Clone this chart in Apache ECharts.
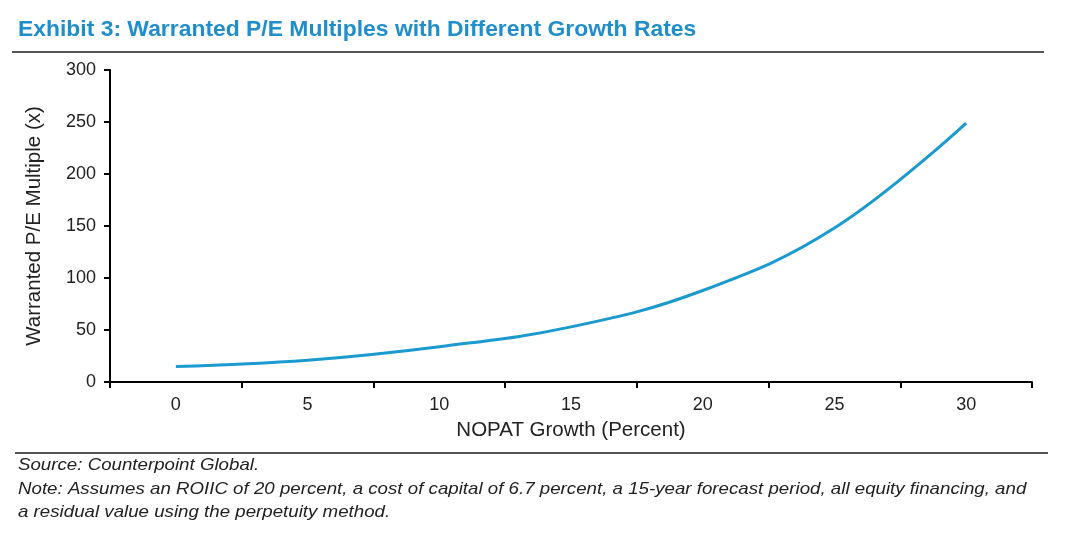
<!DOCTYPE html>
<html>
<head>
<meta charset="utf-8">
<script src="https://cdn.jsdelivr.net/npm/echarts@6/dist/echarts.min.js"></script>
<style>html,body{margin:0;padding:0;background:#fff}#c{width:1080px;height:534px}</style>
</head>
<body>
<div id="c"></div>
<script>
const categories = ['0', '5', '10', '15', '20', '25', '30'];
const peMultiple = [15, 21, 34, 53, 88, 148, 249];
const yTicks = { min: 0, max: 300, interval: 50 };

const chart = echarts.init(document.getElementById('c'));
const ff = '"Liberation Sans", Arial, sans-serif';
chart.setOption({
  animation: false,
  backgroundColor: '#fff',
  grid: { left: 110, right: 48, top: 70, bottom: 152, containLabel: false },
  graphic: [
    { type: 'text', x: 18, y: 19, scaleX: 1.06, style: { text: 'Exhibit 3: Warranted P/E Multiples with Different Growth Rates', font: 'bold 21.6px ' + ff, fill: '#1f8ecb' } },
    { type: 'rect', shape: { x: 12, y: 51, width: 1032, height: 2 }, style: { fill: '#555' } },
    { type: 'rect', shape: { x: 15, y: 452, width: 1033, height: 2 }, style: { fill: '#555' } },
    { type: 'text', x: 18, y: 457, scaleX: 1.1, style: { text: 'Source: Counterpoint Global.', font: 'italic 17px ' + ff, fill: '#222' } },
    { type: 'text', x: 18, y: 481, scaleX: 1.1, style: { text: 'Note: Assumes an ROIIC of 20 percent, a cost of capital of 6.7 percent, a 15-year forecast period, all equity financing, and', font: 'italic 17px ' + ff, fill: '#222' } },
    { type: 'text', x: 18, y: 504, scaleX: 1.1, style: { text: 'a residual value using the perpetuity method.', font: 'italic 17px ' + ff, fill: '#222' } }
  ],
  xAxis: {
    type: 'category',
    data: categories,
    boundaryGap: true,
    name: 'NOPAT Growth (Percent)',
    nameLocation: 'middle',
    nameGap: 38,
    nameTextStyle: { fontFamily: ff, fontSize: 20.5, color: '#222' },
    axisLine: { lineStyle: { color: '#000', width: 2 } },
    axisTick: { show: true, length: 6, lineStyle: { color: '#000', width: 2 } },
    axisLabel: { fontFamily: ff, fontSize: 18, color: '#222', margin: 14 },
    splitLine: { show: false }
  },
  yAxis: {
    type: 'value',
    min: yTicks.min, max: yTicks.max, interval: yTicks.interval,
    name: 'Warranted P/E Multiple (x)',
    nameLocation: 'middle',
    nameGap: 65,
    nameTextStyle: { fontFamily: ff, fontSize: 20.5, color: '#222' },
    axisLine: { show: true, lineStyle: { color: '#000', width: 2 } },
    axisTick: { show: true, length: 6, lineStyle: { color: '#000', width: 2 } },
    axisLabel: { fontFamily: ff, fontSize: 18, color: '#222', margin: 14 },
    splitLine: { show: false }
  },
  series: [{
    type: 'line',
    data: peMultiple,
    smooth: 0.4,
    symbol: 'none',
    lineStyle: { color: '#1b9ad0', width: 3 }
  }]
});
</script>
</body>
</html>
